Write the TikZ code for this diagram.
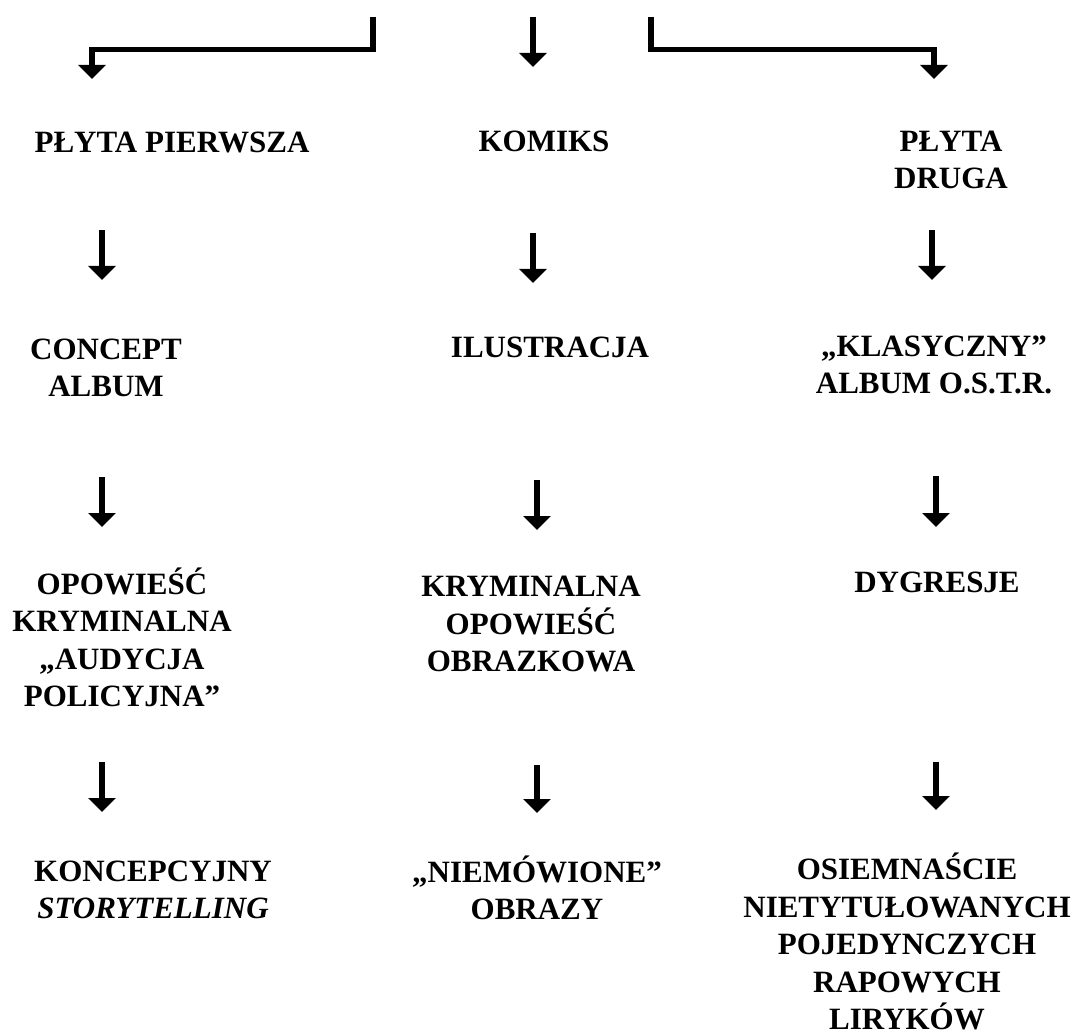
\documentclass[tikz,border=0pt]{standalone}
\usepackage{fontspec}
\setmainfont{Liberation Serif}
\usetikzlibrary{arrows.meta}
\begin{document}
\begin{tikzpicture}[x=1pt,y=-1pt,
  lbl/.style={font=\fontsize{31}{37.5}\selectfont\bfseries, align=center, inner sep=0pt, text depth=0pt, anchor=south},
  arr/.style={line width=5.5pt, line join=miter, -{Triangle[width=27pt,length=14pt]}}]
\useasboundingbox (0,0) rectangle (1080,1035);

% labels (positioned at the baseline of their last line)
\node[lbl] (p1) at (172,153) {PŁYTA PIERWSZA};
\node[lbl] (km) at (544,152) {KOMIKS};
\node[lbl] (p2) at (951,189) {PŁYTA\\DRUGA};

\node[lbl] (ca) at (106,397) {CONCEPT\\ALBUM};
\node[lbl] (il) at (550,358) {ILUSTRACJA};
\node[lbl] (kl) at (934,394) {„KLASYCZNY”\\ALBUM O.S.T.R.};

\node[lbl] (ok) at (122,707) {OPOWIEŚĆ\\KRYMINALNA\\„AUDYCJA\\POLICYJNA”};
\node[lbl] (ko) at (531,672) {KRYMINALNA\\OPOWIEŚĆ\\OBRAZKOWA};
\node[lbl] (dy) at (937,593) {DYGRESJE};

\node[lbl] (st) at (153,919) {KONCEPCYJNY\\\textit{STORYTELLING}};
\node[lbl] (ni) at (537,920) {„NIEMÓWIONE”\\OBRAZY};
\node[lbl] (os) at (907,1030) {OSIEMNAŚCIE\\NIETYTUŁOWANYCH\\POJEDYNCZYCH\\RAPOWYCH\\LIRYKÓW};

% arrow end points
\coordinate (tl0) at (373,17);  \coordinate (tl1) at (373,49.5);
\coordinate (tl2) at (92,49.5); \coordinate (tl3) at (92,79);
\coordinate (tm0) at (533,17);  \coordinate (tm1) at (533,67);
\coordinate (tr0) at (651,17);  \coordinate (tr1) at (651,49.5);
\coordinate (tr2) at (934,49.5); \coordinate (tr3) at (934,79);

\coordinate (a1s) at (102,230); \coordinate (a1e) at (102,280);
\coordinate (a2s) at (533,233); \coordinate (a2e) at (533,283);
\coordinate (a3s) at (932,230); \coordinate (a3e) at (932,280);

\coordinate (b1s) at (102,477); \coordinate (b1e) at (102,527);
\coordinate (b2s) at (537,480); \coordinate (b2e) at (537,530);
\coordinate (b3s) at (936,476); \coordinate (b3e) at (936,527);

\coordinate (c1s) at (102,762); \coordinate (c1e) at (102,812);
\coordinate (c2s) at (537,765); \coordinate (c2e) at (537,813);
\coordinate (c3s) at (936,762); \coordinate (c3e) at (936,810);

% connectors
\draw[arr] (tl0) -- (tl1) -- (tl2) -- (tl3);
\draw[arr] (tm0) -- (tm1);
\draw[arr] (tr0) -- (tr1) -- (tr2) -- (tr3);

\draw[arr] (a1s) -- (a1e);
\draw[arr] (a2s) -- (a2e);
\draw[arr] (a3s) -- (a3e);
\draw[arr] (b1s) -- (b1e);
\draw[arr] (b2s) -- (b2e);
\draw[arr] (b3s) -- (b3e);
\draw[arr] (c1s) -- (c1e);
\draw[arr] (c2s) -- (c2e);
\draw[arr] (c3s) -- (c3e);
\end{tikzpicture}
\end{document}
